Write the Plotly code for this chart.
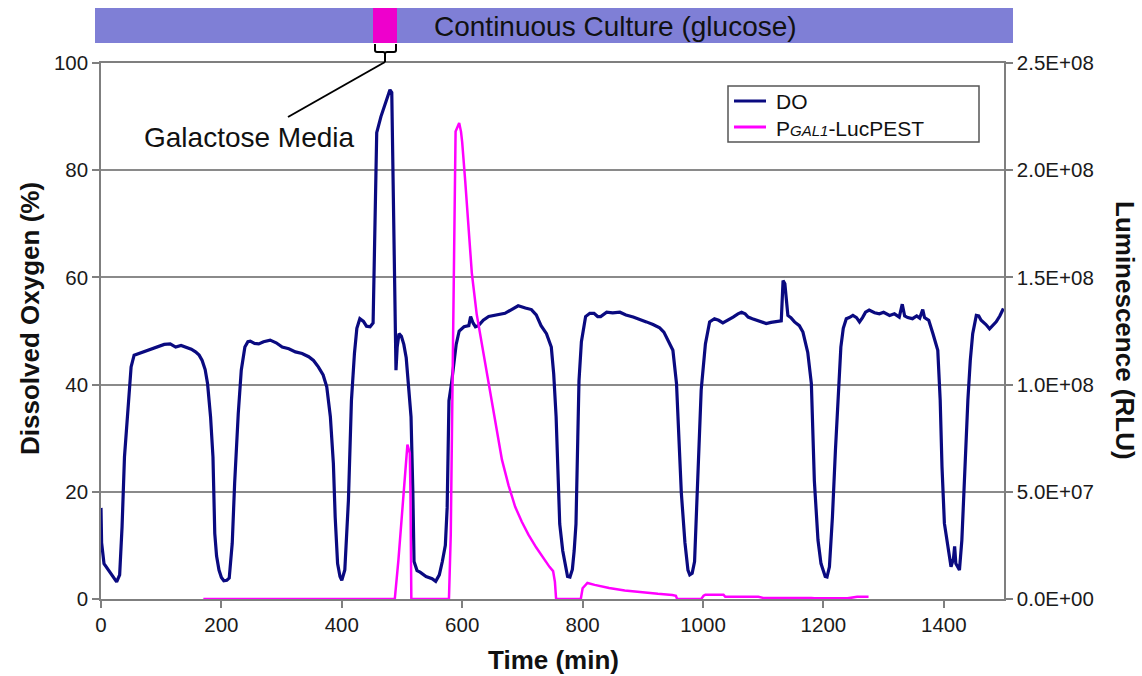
import plotly.graph_objects as go

# ---------------- data ----------------
do_time = [0, 1, 5, 10, 14, 19, 26, 31, 35, 39, 44, 50, 55, 62, 69, 77, 85, 95, 105, 115,
           124, 133, 141, 150, 157, 163, 168, 173, 177, 182, 186, 189, 192, 196, 200, 204, 209, 213,
           218, 222, 228, 233, 239, 244, 248, 255, 262, 270, 281, 291, 301, 312, 323, 334, 345, 353,
           361, 369, 375, 381, 386, 389, 393, 397, 400, 405, 411, 416, 421, 425, 430, 436, 441, 447,
           452, 455, 458, 465, 472, 480, 483, 486, 488, 490, 492, 495, 499, 503, 507, 511, 515, 518,
           520, 525, 530, 540, 550, 556, 562, 567, 572, 575, 578, 582, 586, 590, 595, 603, 611, 614,
           618, 622, 627, 635, 644, 655, 671, 682, 693, 705, 715, 723, 731, 740, 748, 752, 756, 759,
           762, 767, 772, 775, 779, 783, 786, 789, 792, 794, 798, 805, 812, 819, 825, 830, 840, 850,
           862, 872, 884, 895, 906, 917, 928, 935, 939, 945, 950, 956, 960, 964, 970, 975, 978, 982,
           986, 989, 993, 997, 1004, 1011, 1019, 1026, 1033, 1042, 1050, 1058, 1064, 1070, 1075, 1082,
           1089, 1097, 1105, 1113, 1122, 1130, 1133, 1136, 1141, 1146, 1152, 1160, 1166, 1171, 1174,
           1180, 1183, 1185, 1191, 1196, 1203, 1206, 1210, 1215, 1220, 1225, 1229, 1233, 1238, 1243,
           1249, 1255, 1260, 1265, 1270, 1276, 1285, 1293, 1300, 1310, 1318, 1326, 1331, 1335, 1340,
           1348, 1355, 1360, 1365, 1368, 1375, 1382, 1390, 1394, 1397, 1401, 1407, 1412, 1416, 1418,
           1420, 1426, 1430, 1434, 1440, 1444, 1448, 1454, 1458, 1462, 1470, 1476, 1482, 1487, 1493,
           1499]
do_value = [17, 10.5, 6.6, 5.8, 5.1, 4.2, 3.2, 4.5, 13.5, 26.5, 34.6, 43.3, 45.5, 45.8, 46.1, 46.3,
            46.7, 47.2, 47.5, 47.6, 47.0, 47.3, 47.0, 46.6, 46.1, 45.5, 44.5, 42.8, 40.2, 34.0, 26.5,
            12.2, 8.0, 5.4, 4.0, 3.4, 3.5, 3.9, 10.4, 21.6, 34.6, 42.7, 47.0, 48.0, 48.1, 47.7, 47.6,
            48.0, 48.3, 47.8, 47.0, 46.7, 46.1, 45.8, 45.2, 44.5, 43.3, 41.8, 39.6, 34.0, 25.3, 15.3,
            6.6, 4.2, 3.5, 5.4, 18.4, 37.0, 45.8, 50.5, 52.3, 51.8, 50.9, 50.8, 51.5, 70, 87.0, 90,
            92.5, 95.0, 94.5, 70, 54.0, 42.7, 47, 49.5, 49.0, 47.5, 45.0, 40, 34.0, 20, 7.0, 5.3,
            5.0, 4.2, 3.8, 3.3, 4.5, 7.0, 10, 17.0, 37.0, 40, 44.0, 47.5, 50.0, 50.8, 51.0, 52.7,
            51.5, 50.8, 51.0, 52.0, 52.7, 53.0, 53.3, 54, 54.7, 54.3, 54.0, 53, 51.0, 49.5, 47.0,
            42, 34.0, 24, 14.0, 9, 5.5, 4.2, 4.1, 5.5, 9, 14.0, 30, 40.7, 48, 52.7, 53.3, 53.3,
            52.7, 52.7, 53.5, 53.4, 53.5, 53.0, 52.6, 52.2, 51.7, 51.2, 50.6, 49.8, 48.9, 47.8, 46.4,
            40.2, 30.2, 19.8, 10.5, 5.4, 4.5, 4.8, 7, 15.3, 27.8, 39.0, 47.6, 51.7, 52.3, 52.0, 51.5,
            52.0, 52.6, 53.2, 53.5, 53.2, 52.6, 52.3, 52.0, 51.7, 51.4, 51.6, 51.7, 51.9, 59.4, 58.8,
            52.9, 52.5, 51.7, 51.0, 49.8, 47.6, 46.0, 40.2, 30.9, 22, 11.0, 6.6, 4.2, 4.1, 6.0, 15.3,
            27.8, 40.2, 47.0, 50.5, 52.3, 52.5, 52.9, 52.5, 51.7, 52.5, 53.5, 53.9, 53.4, 53.2, 53.5,
            52.9, 53.2, 52.6, 55.0, 52.8, 52.5, 52.3, 52.8, 52.4, 54.0, 52.5, 52.0, 49.5, 46.4, 37.1,
            24.7, 14.1, 9.1, 6.0, 7.5, 9.8, 6.6, 5.4, 11.0, 21.6, 37.1, 44.5, 49.5, 52.9, 52.8, 52.0,
            51.2, 50.4, 51.0, 51.7, 52.8, 54.2]

lum_time = [170, 488, 494, 499.5, 505, 509, 511, 513, 514, 515.5, 578, 581, 584, 587, 589, 592,
            595, 598, 600, 605, 610, 616, 624, 633, 641, 649, 657, 666, 677, 688, 699, 710, 723,
            737, 745, 751, 754, 756, 797, 800, 808, 820, 844, 870, 899, 925, 949, 955, 957, 997,
            1001, 1004, 1034, 1037, 1092, 1100, 1180, 1185, 1240, 1256, 1275]
lum_value = [0, 0, 0.18e8, 0.37e8, 0.60e8, 0.72e8, 0.70e8, 0.68e8, 0.5e8, 0, 0, 0.3e8, 1.02e8,
             1.8e8, 2.18e8, 2.2e8, 2.22e8, 2.18e8, 2.13e8, 1.95e8, 1.75e8, 1.52e8, 1.33e8, 1.18e8,
             1.05e8, 0.93e8, 0.78e8, 0.65e8, 0.53e8, 0.43e8, 0.36e8, 0.30e8, 0.24e8, 0.18e8,
             0.15e8, 0.13e8, 0.08e8, 0, 0, 0.05e8, 0.075e8, 0.066e8, 0.051e8, 0.04e8, 0.03e8,
             0.024e8, 0.019e8, 0.015e8, 0, 0, 0.015e8, 0.02e8, 0.02e8, 0.01e8, 0.01e8, 0.005e8,
             0.005e8, 0.003e8, 0.003e8, 0.01e8, 0.01e8]

x_ticks = [0, 200, 400, 600, 800, 1000, 1200, 1400]
y_ticks = [0, 20, 40, 60, 80, 100]
y2_ticks = [0, 5e7, 1e8, 1.5e8, 2e8, 2.5e8]
y2_ticklabels = ["0.0E+00", "5.0E+07", "1.0E+08", "1.5E+08", "2.0E+08", "2.5E+08"]

series_names = ["DO", "P<i><span style='font-size:15px'>GAL1</span></i>-LucPEST"]
series_colors = ["#0a0a80", "#ff00ff"]

# ---------------- layout geometry (pixels) ----------------
W, H = 1142, 676
L, R, T, B = 101, 1004, 63, 599
FONT = "Liberation Sans, Arial, sans-serif"


def px(xp):
    return (xp - L) / (R - L)


def py(yp):
    return (B - yp) / (B - T)


fig = go.Figure()
fig.add_trace(go.Scatter(x=do_time, y=do_value, mode="lines", name=series_names[0],
                         line=dict(color=series_colors[0], width=3.2), showlegend=False))
fig.add_trace(go.Scatter(x=lum_time, y=lum_value, mode="lines", yaxis="y2", name=series_names[1],
                         line=dict(color=series_colors[1], width=2.5), showlegend=False))

axis_common = dict(showline=True, linecolor="#7f7f7f", linewidth=1.5, ticks="outside",
                   ticklen=7, tickcolor="#7f7f7f", tickwidth=1.5,
                   tickfont=dict(family=FONT, size=20.5, color="#1a1a1a"), zeroline=False)

fig.update_layout(
    width=W, height=H,
    margin=dict(l=L, r=W - R, t=T, b=H - B),
    paper_bgcolor="white", plot_bgcolor="white",
    font=dict(family=FONT),
    showlegend=False,
    xaxis=dict(range=[0, 1500], tickvals=x_ticks, showgrid=False, mirror=True, **axis_common),
    yaxis=dict(range=[0, 100], tickvals=y_ticks, showgrid=True, gridcolor="#8a8a8a",
               gridwidth=1.5, **axis_common),
    yaxis2=dict(range=[0, 2.5e8], tickvals=y2_ticks, ticktext=y2_ticklabels, overlaying="y",
                side="right", showgrid=False, **axis_common),
)

# top bar: continuous culture (purple) with galactose pulse (magenta)
fig.add_shape(type="rect", xref="paper", yref="paper", x0=px(95), x1=px(1013), y0=py(43), y1=py(8),
              fillcolor="#7f7fd6", line=dict(width=0), layer="above")
fig.add_shape(type="rect", xref="paper", yref="paper", x0=px(373), x1=px(397), y0=py(43), y1=py(8),
              fillcolor="#ee00cc", line=dict(width=0), layer="above")


def pt(a, b):
    return f"{px(a)},{py(b)}"


bracket = (f"M {pt(375, 44)} L {pt(375, 50)} Q {pt(375, 52)} {pt(377, 52)} L {pt(383, 52)} "
           f"Q {pt(385, 52)} {pt(385, 54)} L {pt(385, 62)} "
           f"M {pt(396, 44)} L {pt(396, 50)} Q {pt(396, 52)} {pt(394, 52)} L {pt(387, 52)} "
           f"Q {pt(385, 52)} {pt(385, 54)}")
fig.add_shape(type="path", xref="paper", yref="paper", path=bracket,
              line=dict(color="black", width=2))
fig.add_shape(type="line", xref="paper", yref="paper", x0=px(385), y0=py(62), x1=px(288), y1=py(117),
              line=dict(color="black", width=2))

# legend box (drawn to match the reference's boxed legend)
fig.add_shape(type="rect", xref="paper", yref="paper", x0=px(728), x1=px(979), y0=py(142), y1=py(86),
              fillcolor="white", line=dict(color="#555555", width=1.5), layer="above")
for i, (name, color) in enumerate(zip(series_names, series_colors)):
    yy = 101 + 26 * i
    fig.add_shape(type="line", xref="paper", yref="paper", x0=px(734), x1=px(766), y0=py(yy), y1=py(yy),
                  line=dict(color=color, width=3), layer="above")
    fig.add_annotation(xref="paper", yref="paper", x=px(774), y=py(yy + 1), text=name,
                       showarrow=False, xanchor="left", yanchor="middle",
                       font=dict(family=FONT, size=21, color="#111"))

annotations = [
    dict(text="Continuous Culture (glucose)", x=px(615), y=py(27), font=dict(size=28, color="#111")),
    dict(text="Galactose Media", x=px(249), y=py(137), font=dict(size=28, color="#111")),
    dict(text="<b>Time (min)</b>", x=px(553), y=py(660), font=dict(size=26, color="#111")),
    dict(text="<b>Dissolved Oxygen (%)</b>", x=px(30), y=py(319), textangle=-90,
         font=dict(size=26, color="#111")),
    dict(text="<b>Luminescence (RLU)</b>", x=px(1125), y=py(330), textangle=90,
         font=dict(size=26, color="#111")),
]
for a in annotations:
    fig.add_annotation(xref="paper", yref="paper", showarrow=False, xanchor="center",
                       yanchor="middle", **a)

fig.write_html("out.html")
